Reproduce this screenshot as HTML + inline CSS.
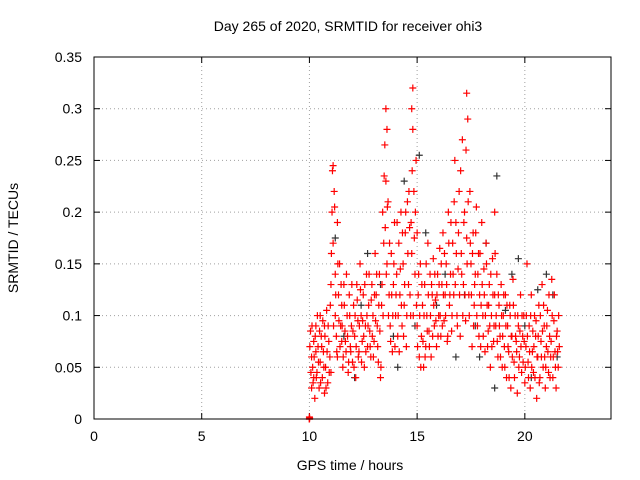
<!DOCTYPE html>
<html><head><meta charset="utf-8"><style>
body{margin:0;background:#fff}
svg{display:block;font-family:"Liberation Sans",sans-serif}
</style></head><body>
<svg id="chart" width="640" height="480" viewBox="0 0 640 480">
<text x="348" y="31" font-size="14" text-anchor="middle">Day 265 of 2020, SRMTID for receiver ohi3</text>
<text x="350" y="470" font-size="14" text-anchor="middle">GPS time / hours</text>
<text x="18" y="238" font-size="14" text-anchor="middle" transform="rotate(-90 18 238)">SRMTID / TECUs</text>
<g id="grid"></g><g id="axes"></g><g id="marks"></g>
<rect x="94" y="57" width="517" height="362" fill="none" stroke="#000"/>
</svg>
<script>
const xTicks=[0,5,10,15,20];
const yTicks=[0,0.05,0.1,0.15,0.2,0.25,0.3,0.35];
const yTickLabels=["0","0.05","0.1","0.15","0.2","0.25","0.3","0.35"];
const redT=[10,10,10,10.05,10.1,10.1,10.15,10.2,10.2,10.25,10.3,10.3,10.35,10.4,10.45,10.5,10.5,10.55,10.6,10.65,10.7,10.7,10.75,10.8,10.85,10.9,10.95,11,11,11.05,11.1,11.1,11.15,11.2,11.2,11.25,11.3,11.3,11.35,11.4,11.45,11.5,11.5,11.55,11.6,11.65,11.7,11.75,11.8,11.85,11.9,11.95,12,12.05,12.1,12.15,12.2,12.25,12.3,12.35,12.4,12.45,12.5,12.55,12.6,12.65,12.7,12.75,12.8,12.85,12.9,12.95,13,13.05,13.1,13.15,13.2,13.25,13.3,13.35,13.4,13.45,13.5,13.55,13.55,13.6,13.6,13.65,13.7,13.75,13.8,13.85,13.9,13.95,14,14.05,14.1,14.15,14.2,14.25,14.3,14.35,14.4,14.45,14.5,14.55,14.6,14.65,14.7,14.75,14.75,14.8,14.8,14.85,14.9,14.95,15,15,15.05,15.1,15.15,15.2,15.25,15.3,15.35,15.4,15.45,15.5,15.55,15.6,15.65,15.7,15.75,15.8,15.85,15.9,15.95,16,16.05,16.1,16.15,16.2,16.25,16.3,16.35,16.4,16.45,16.5,16.55,16.6,16.65,16.7,16.75,16.8,16.85,16.9,16.95,17,17.05,17.1,17.15,17.2,17.25,17.3,17.3,17.35,17.4,17.45,17.5,17.55,17.6,17.65,17.7,17.75,17.8,17.85,17.9,17.95,18,18.05,18.1,18.15,18.2,18.25,18.3,18.35,18.4,18.45,18.5,18.55,18.6,18.6,18.65,18.7,18.75,18.8,18.85,18.9,18.95,19,19.05,19.1,19.15,19.2,19.25,19.3,19.35,19.4,19.45,19.5,19.55,19.6,19.65,19.7,19.75,19.8,19.85,19.9,19.95,20,20.05,20.1,20.15,20.2,20.25,20.3,20.35,20.4,20.45,20.5,20.55,20.6,20.65,20.7,20.75,20.8,20.85,20.9,20.95,21,21.05,21.1,21.15,21.2,21.25,21.3,21.35,21.4,21.45,21.5,21.55,21.6];
const redV=[0,0,0,.085,.06,.03,.05,.075,.04,.02,.065,.09,.045,.07,.03,.1,.055,.08,.04,.065,.025,.09,.05,.105,.035,.075,.06,.13,.045,.2,.245,.17,.22,.14,.1,.08,.19,.06,.12,.15,.09,.075,.11,.05,.13,.085,.065,.1,.045,.12,.07,.09,.055,.11,.08,.04,.13,.095,.065,.15,.1,.075,.12,.05,.09,.14,.07,.11,.085,.06,.13,.1,.075,.16,.12,.09,.055,.14,.04,.11,.2,.17,.265,.3,.23,.28,.15,.21,.12,.09,.16,.065,.13,.19,.1,.14,.08,.17,.12,.2,.09,.15,.11,.18,.07,.21,.13,.185,.1,.3,.16,.28,.32,.22,.14,.25,.18,.09,.12,.06,.15,.08,.11,.05,.13,.07,.1,.17,.085,.14,.06,.12,.155,.09,.115,.07,.14,.1,.165,.08,.13,.18,.095,.12,.15,.075,.2,.11,.14,.085,.17,.12,.25,.19,.1,.145,.22,.08,.16,.27,.13,.2,.095,.315,.175,.29,.12,.22,.15,.07,.18,.11,.14,.205,.09,.16,.12,.07,.19,.1,.145,.065,.17,.11,.085,.13,.05,.1,.155,.075,.2,.12,.09,.14,.06,.11,.08,.13,.05,.1,.07,.12,.04,.09,.065,.11,.03,.08,.135,.055,.1,.075,.025,.09,.06,.12,.045,.08,.1,.035,.07,.15,.055,.09,.03,.12,.065,.045,.1,.08,.02,.06,.11,.04,.075,.13,.05,.09,.03,.07,.105,.045,.08,.06,.135,.04,.095,.065,.03,.085,.05,.07];
const redT2=[10,10.01,10.02,10.07,10.12,10.17,10.22,10.27,10.32,10.37,10.42,10.47,10.52,10.57,10.62,10.67,10.72,10.77,10.82,10.87,10.92,10.97,11.02,11.07,11.12,11.17,11.22,11.27,11.32,11.37,11.42,11.47,11.52,11.57,11.62,11.67,11.72,11.77,11.82,11.87,11.92,11.97,12.02,12.07,12.12,12.17,12.22,12.27,12.32,12.37,12.42,12.47,12.52,12.57,12.62,12.67,12.72,12.77,12.82,12.87,12.92,12.97,13.02,13.07,13.12,13.17,13.22,13.27,13.32,13.37,13.42,13.47,13.52,13.57,13.62,13.67,13.72,13.77,13.82,13.87,13.92,13.97,14.02,14.07,14.12,14.17,14.22,14.27,14.32,14.37,14.42,14.47,14.52,14.57,14.62,14.67,14.72,14.77,14.82,14.87,14.92,14.97,15.02,15.07,15.12,15.17,15.22,15.27,15.32,15.37,15.42,15.47,15.52,15.57,15.62,15.67,15.72,15.77,15.82,15.87,15.92,15.97,16.02,16.07,16.12,16.17,16.22,16.27,16.32,16.37,16.42,16.47,16.52,16.57,16.62,16.67,16.72,16.77,16.82,16.87,16.92,16.97,17.02,17.07,17.12,17.17,17.22,17.27,17.32,17.37,17.42,17.47,17.52,17.57,17.62,17.67,17.72,17.77,17.82,17.87,17.92,17.97,18.02,18.07,18.12,18.17,18.22,18.27,18.32,18.37,18.42,18.47,18.52,18.57,18.62,18.67,18.72,18.77,18.82,18.87,18.92,18.97,19.02,19.07,19.12,19.17,19.22,19.27,19.32,19.37,19.42,19.47,19.52,19.57,19.62,19.67,19.72,19.77,19.82,19.87,19.92,19.97,20.02,20.07,20.12,20.17,20.22,20.27,20.32,20.37,20.42,20.47,20.52,20.57,20.62,20.67,20.72,20.77,20.82,20.87,20.92,20.97,21.02,21.07,21.12,21.17,21.22,21.27,21.32,21.37,21.42,21.47,21.52,21.57];
const redV2=[.002,.001,.07,.045,.09,.035,.06,.08,.04,.1,.055,.085,.035,.07,.095,.05,.08,.03,.065,.09,.045,.11,.16,.24,.09,.205,.12,.065,.15,.095,.07,.13,.09,.06,.11,.075,.14,.08,.055,.1,.065,.13,.085,.05,.1,.07,.115,.06,.09,.125,.055,.095,.08,.13,.065,.1,.09,.14,.07,.115,.08,.06,.12,.095,.14,.07,.11,.085,.05,.13,.1,.235,.185,.14,.205,.1,.17,.075,.12,.1,.15,.07,.12,.19,.1,.065,.145,.11,.18,.08,.13,.2,.1,.16,.22,.12,.19,.24,.1,.175,.2,.11,.07,.14,.1,.05,.13,.075,.1,.06,.15,.085,.12,.07,.1,.13,.08,.11,.14,.095,.12,.08,.13,.1,.15,.09,.12,.16,.1,.13,.08,.17,.12,.19,.1,.14,.21,.13,.16,.09,.18,.12,.24,.14,.1,.19,.12,.26,.15,.21,.1,.17,.12,.16,.09,.13,.18,.1,.14,.08,.16,.11,.13,.08,.12,.1,.15,.07,.11,.09,.14,.07,.12,.09,.16,.1,.075,.12,.09,.06,.1,.08,.12,.05,.09,.11,.07,.04,.1,.08,.06,.11,.04,.08,.065,.1,.05,.085,.07,.1,.055,.075,.05,.1,.08,.04,.065,.1,.05,.085,.07,.04,.095,.06,.08,.035,.1,.06,.085,.11,.06,.05,.09,.065,.12,.04,.075,.1,.06,.12,.05,.08,.065,.1];
const blackT=[11.2,11.6,12.1,12.7,13.3,13.9,14.4,14.9,15.1,15.4,15.9,16.3,16.8,17.2,17.7,18.2,18.7,18.6,19.1,19.4,19.7,20,20.3,20.6,21,21.3,21.5,14.1,12.4,17.9];
const blackV=[.175,.08,.04,.16,.13,.08,.23,.09,.255,.18,.11,.14,.06,.12,.09,.17,.235,.03,.105,.14,.155,.09,.04,.125,.14,.12,.06,.05,.11,.06];
const NS="http://www.w3.org/2000/svg";
const X0=94,X1=611,Y0=419,Y1=57;
function xs(v){return X0+(v/24)*(X1-X0);}
function ys(v){return Y0-(v/0.35)*(Y0-Y1);}
function mk(tag,attrs,parent){const e=document.createElementNS(NS,tag);for(const k in attrs)e.setAttribute(k,attrs[k]);parent.appendChild(e);return e;}
const grid=document.getElementById('grid'),axes=document.getElementById('axes'),marks=document.getElementById('marks');
xTicks.forEach(t=>{const x=xs(t);
 if(t>0){const g=mk('line',{x1:x,x2:x,y1:Y0,y2:Y1,stroke:'#a0a0a0','stroke-dasharray':'1,3'},grid);
 
 }
 mk('line',{x1:x,x2:x,y1:Y0,y2:Y0-6,stroke:'#000'},axes);
 mk('line',{x1:x,x2:x,y1:Y1,y2:Y1+6,stroke:'#000'},axes);
 const l=mk('text',{x:x,y:Y0+22,'font-size':14,'text-anchor':'middle'},axes);l.textContent=t;
 
 
});
yTicks.forEach((t,i)=>{const y=ys(t);
 if(i>0&&i<yTicks.length-1){const g=mk('line',{x1:X0,x2:X1,y1:y,y2:y,stroke:'#a0a0a0','stroke-dasharray':'1,3'},grid);
 
 }
 mk('line',{x1:X0,x2:X0+6,y1:y,y2:y,stroke:'#000'},axes);
 mk('line',{x1:X1,x2:X1-6,y1:y,y2:y,stroke:'#000'},axes);
 const l=mk('text',{x:X0-12,y:y+5,'font-size':14,'text-anchor':'end'},axes);l.textContent=yTickLabels[i];
 
 
});
function plus(t,v,c,name){const x=xs(t),y=ys(v);
 const p=mk('path',{d:`M${x-3.5},${y}H${x+3.5}M${x},${y-3.5}V${y+3.5}`,stroke:c,'stroke-width':1.2,fill:'none'},marks);
 
 }
blackT.forEach((t,i)=>plus(t,blackV[i],'#333','black-point'));
redT.forEach((t,i)=>plus(t,redV[i],'#ff0000','red-point'));
redT2.forEach((t,i)=>plus(t,redV2[i],'#ff0000','red-point'));
</script>
</body></html>
